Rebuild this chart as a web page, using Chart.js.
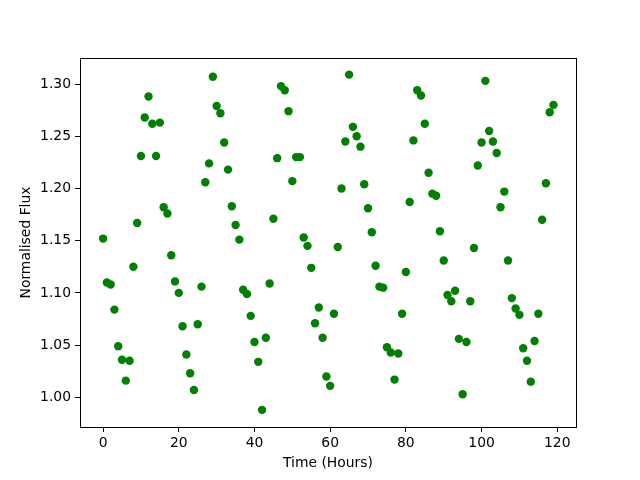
<!DOCTYPE html>
<html>
<head>
<meta charset="utf-8">
<script src="https://cdn.jsdelivr.net/npm/chart.js@4.4.1/dist/chart.umd.min.js"></script>
<style>
  html, body { margin: 0; padding: 0; background: #fff; }
  #wrap { width: 640px; height: 480px; }
</style>
</head>
<body>
<div id="wrap"><canvas id="chartCanvas" width="640" height="480"></canvas></div>
<script>
// Data
const hours = [
  0, 1, 2, 3, 4, 5, 6, 7, 8, 9, 10, 11, 12, 13, 14, 15, 16, 17, 18, 19,
  20, 21, 22, 23, 24, 25, 26, 27, 28, 29, 30, 31, 32, 33, 34, 35, 36, 37, 38, 39,
  40, 41, 42, 43, 44, 45, 46, 47, 48, 49, 50, 51, 52, 53, 54, 55, 56, 57, 58, 59,
  60, 61, 62, 63, 64, 65, 66, 67, 68, 69, 70, 71, 72, 73, 74, 75, 76, 77, 78, 79,
  80, 81, 82, 83, 84, 85, 86, 87, 88, 89, 90, 91, 92, 93, 94, 95, 96, 97, 98, 99,
  100, 101, 102, 103, 104, 105, 106, 107, 108, 109, 110, 111, 112, 113, 114, 115, 116, 117, 118, 119
];

const flux = [
  1.152, 1.110, 1.108, 1.084, 1.049, 1.036, 1.016, 1.035, 1.125, 1.167,
  1.231, 1.268, 1.288, 1.262, 1.231, 1.263, 1.182, 1.176, 1.136, 1.111,
  1.100, 1.068, 1.041, 1.023, 1.007, 1.070, 1.106, 1.206, 1.224, 1.307,
  1.279, 1.272, 1.244, 1.218, 1.183, 1.165, 1.151, 1.103, 1.099, 1.078,
  1.053, 1.034, 0.988, 1.057, 1.109, 1.171, 1.229, 1.298, 1.294, 1.274,
  1.207, 1.230, 1.230, 1.153, 1.145, 1.124, 1.071, 1.086, 1.057, 1.020,
  1.011, 1.080, 1.144, 1.200, 1.245, 1.309, 1.259, 1.250, 1.240, 1.204,
  1.181, 1.158, 1.126, 1.106, 1.105, 1.048, 1.043, 1.017, 1.042, 1.080,
  1.120, 1.187, 1.246, 1.294, 1.289, 1.262, 1.215, 1.195, 1.193, 1.159,
  1.131, 1.098, 1.092, 1.102, 1.056, 1.003, 1.053, 1.092, 1.143, 1.222,
  1.244, 1.303, 1.255, 1.245, 1.234, 1.182, 1.197, 1.131, 1.095, 1.085,
  1.079, 1.047, 1.035, 1.015, 1.054, 1.080, 1.170, 1.205, 1.273, 1.280
];

const xTicks = [0, 20, 40, 60, 80, 100, 120];
const yTicks = [1.00, 1.05, 1.10, 1.15, 1.20, 1.25, 1.30];

Chart.defaults.font.family = "'DejaVu Sans', sans-serif";
Chart.defaults.font.size = 13.9;
Chart.defaults.color = '#000';

// Draw the full box around the plot area, like matplotlib spines
const frameBox = {
  id: 'frameBox',
  afterDatasetsDraw(chart) {
    const a = chart.chartArea;
    const ctx = chart.ctx;
    ctx.save();
    ctx.strokeStyle = '#000';
    ctx.lineWidth = 1;
    ctx.strokeRect(Math.round(a.left) + 0.5, Math.round(a.top) + 0.5,
      Math.round(a.right - a.left), Math.round(a.bottom - a.top));
    ctx.restore();
  }
};

const points = hours.map((h, i) => ({ x: h, y: flux[i] }));

new Chart(document.getElementById('chartCanvas'), {
  type: 'scatter',
  data: {
    datasets: [{
      data: points,
      backgroundColor: 'green',
      borderWidth: 0,
      pointRadius: 4.2,
      pointHoverRadius: 4.2
    }]
  },
  options: {
    responsive: false,
    animation: false,
    layout: { padding: { left: 0, top: 58, right: 64, bottom: 0 } },
    plugins: { legend: { display: false }, tooltip: { enabled: false } },
    scales: {
      x: {
        type: 'linear',
        min: -6.1,
        max: 124.95,
        afterBuildTicks: s => { s.ticks = xTicks.map(v => ({ value: v })); },
        afterFit: s => { s.height = 53; },
        ticks: { padding: 3, maxRotation: 0, autoSkip: false, color: '#000' },
        grid: { drawOnChartArea: false, tickLength: 5, color: '#000', lineWidth: 1 },
        border: { display: false },
        title: { display: true, text: 'Time (Hours)', padding: { top: 0, bottom: 8.7 } }
      },
      y: {
        type: 'linear',
        min: 0.9716,
        max: 1.3249,
        afterBuildTicks: s => { s.ticks = yTicks.map(v => ({ value: v })); },
        afterFit: s => { s.width = 80; },
        ticks: { padding: 4, autoSkip: false, color: '#000', callback: v => v.toFixed(2) },
        grid: { drawOnChartArea: false, tickLength: 5, color: '#000', lineWidth: 1 },
        border: { display: false },
        title: { display: true, text: 'Normalised Flux', padding: { top: 17.7, bottom: 0 } }
      }
    }
  },
  plugins: [frameBox]
});
</script>
</body>
</html>
